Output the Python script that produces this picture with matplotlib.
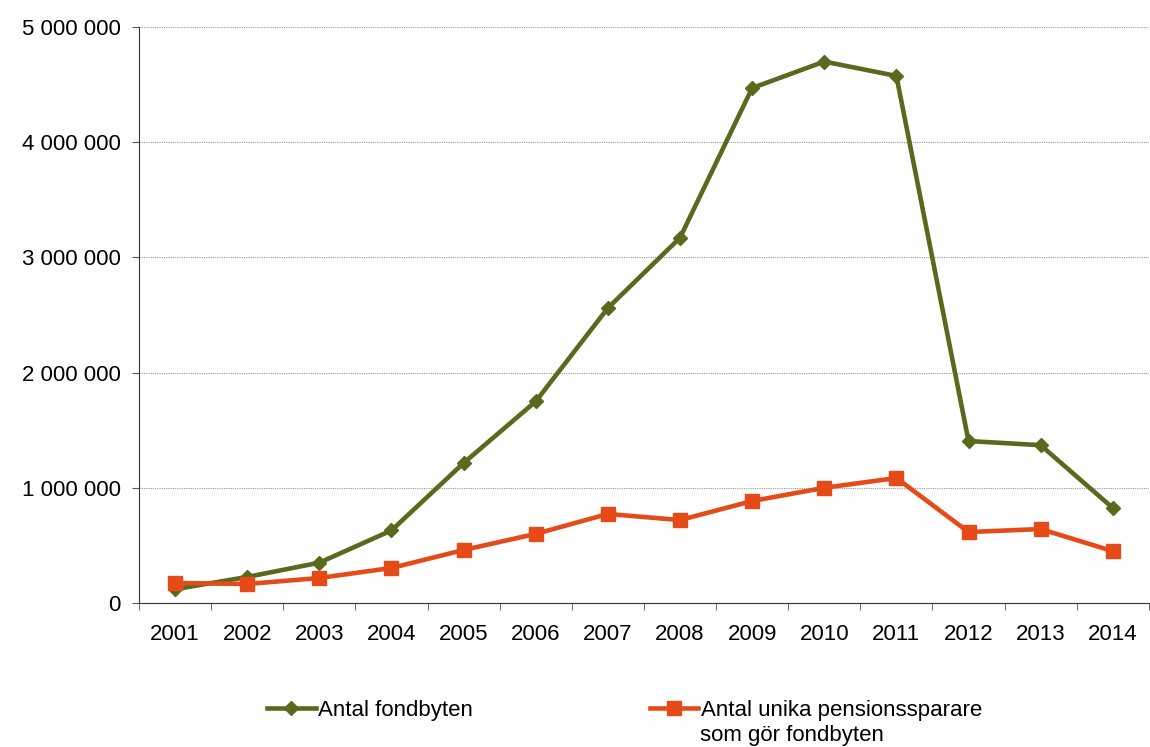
import matplotlib.pyplot as plt
from matplotlib.ticker import FuncFormatter, MultipleLocator

plt.rcParams['font.family'] = ['Liberation Sans', 'DejaVu Sans']

years = ['2001', '2002', '2003', '2004', '2005', '2006', '2007',
         '2008', '2009', '2010', '2011', '2012', '2013', '2014']
fondbyten = [120000, 226000, 350000, 630000, 1215000, 1750000, 2560000,
             3170000, 4470000, 4700000, 4575000, 1406000, 1370000, 825000]
unika = [174000, 165000, 217000, 304000, 460000, 600000, 773000,
         720000, 885000, 1000000, 1085000, 616000, 642000, 450000]

green = '#586a1e'
orange = '#e64a19'

fig = plt.figure(figsize=(11.5, 7.47), dpi=100)
ax = fig.add_axes([139 / 1150, 1 - 603 / 747, 1 - 139 / 1150 - 0.001, (603 - 27) / 747])

x = list(range(len(years)))
ax.plot(x, fondbyten, color=green, lw=3.3, marker='D', ms=7, label='Antal fondbyten')
ax.plot(x, unika, color=orange, lw=3.3, marker='s', ms=9.5,
        label='Antal unika pensionssparare')

ax.set_xlim(-0.5, len(years) - 0.5)
ax.set_ylim(0, 5000000)
ax.yaxis.set_major_locator(MultipleLocator(1000000))
ax.yaxis.set_major_formatter(FuncFormatter(lambda v, p: f"{int(v):,}".replace(',', ' ')))
ax.grid(axis='y', color='#999999', ls=(0, (1, 1)), lw=0.8)
ax.set_axisbelow(True)

ax.set_xticks(x)
ax.set_xticklabels(years)
ax.set_xticks([i - 0.5 for i in range(len(years) + 1)], minor=True)
ax.tick_params(axis='x', which='major', length=0, pad=15, labelsize=16)
ax.tick_params(axis='x', which='minor', length=5, color='#555555')
ax.tick_params(axis='y', length=5, color='#555555', labelsize=16, pad=8)

for s in ['top', 'right']:
    ax.spines[s].set_visible(False)
for s in ['left', 'bottom']:
    ax.spines[s].set_color('#333333')

fig.legend(loc='upper left', bbox_to_anchor=(258 / 1150, 1 - 691 / 747), ncol=2,
           frameon=False, fontsize=16, handlelength=2.2, handletextpad=0.1,
           columnspacing=7.95, borderaxespad=0)
fig.text(700 / 1150, 1 - 735 / 747, 'som gör fondbyten', fontsize=16, va='center', ha='left')

fig.savefig('out.png', dpi=100)
